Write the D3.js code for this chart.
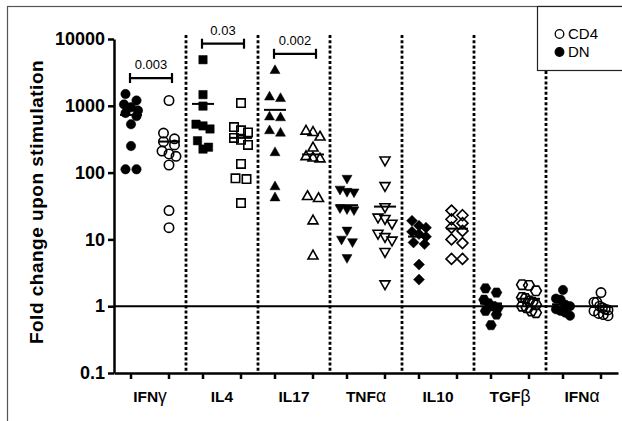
<!DOCTYPE html>
<html>
<head>
<meta charset="UTF-8">
<title>Fold change upon stimulation</title>
<script src="https://cdn.jsdelivr.net/npm/d3@7"></script>
<style>
  body { margin: 0; background: #fff; }
  svg text { font-family: Arial, "Liberation Sans", sans-serif; }
</style>
</head>
<body>
<div id="chart"></div>
<script>
// values (fold change, one entry per donor)
var cytokines = ["IFNγ", "IL4", "IL17", "TNFα", "IL10", "TGFβ", "IFNα"];
var series = ["DN", "CD4"];

var dnValues = [
  [1500, 1200, 1050, 950, 850, 780, 700, 530, 250, 112, 112],
  [4900, 1470, 990, 530, 500, 450, 300, 240, 225],
  [3460, 1390, 1320, 700, 680, 435, 400, 204, 63, 43],
  [80, 55, 51, 50, 29, 28, 27, 13.4, 9.8, 9, 5.2],
  [19, 16, 15, 13, 12, 11, 9, 8.5, 4.2, 2.5],
  [1.85, 1.6, 1.25, 1.1, 1.0, 0.95, 0.85, 0.75, 0.52],
  [1.75, 1.3, 1.25, 1.05, 1.0, 0.9, 0.85, 0.8, 0.72]
];
var cd4Values = [
  [1200, 390, 320, 290, 260, 210, 190, 175, 130, 27, 15],
  [1100, 480, 430, 400, 330, 310, 260, 135, 82, 80, 35],
  [430, 410, 350, 240, 178, 170, 165, 45, 42, 19.5, 5.8],
  [150, 62, 30, 21, 20, 17, 12, 10.7, 9.5, 6.4, 2.1],
  [27, 23, 20, 17.5, 15, 13.4, 10, 8.8, 5.1, 5.1],
  [2.1, 2.05, 1.7, 1.35, 1.3, 1.2, 1.15, 1.05, 1.0, 0.95, 0.85, 0.8],
  [1.6, 1.15, 1.15, 1.0, 0.95, 0.9, 0.88, 0.85, 0.78, 0.75, 0.72]
];

// significance brackets
var pCytokines = ["IFNγ", "IL4", "IL17"];
var pLabels = ["0.003", "0.03", "0.002"];

var yTicks = [0.1, 1, 10, 100, 1000, 10000];
var yTickLabels = ["0.1", "1", "10", "100", "1000", "10000"];

//////////////////////////////////////////////////////////////////////
var width = 622, height = 421;
var plotLeft = 114, plotRight = 618, plotTop = 39, plotBottom = 373;

var svg = d3.select("#chart").append("svg")
    .attr("width", width)
    .attr("height", height);

// frame round the figure
svg.append("rect")
    .attr("x", 7.5).attr("y", 6.5)
    .attr("width", 640).attr("height", 440)
    .attr("fill", "none").attr("stroke", "#555").attr("stroke-width", 1.2);

var y = d3.scaleLog().domain([0.1, 10000]).range([plotBottom, plotTop]);
var x = d3.scaleBand().domain(cytokines).range([plotLeft, plotRight]);
var xInner = d3.scalePoint().domain(series).range([-19, 19]);

function colX(c, s) { return x(c) + x.bandwidth() / 2 + xInner(s); }

// dotted separators between cytokines
var seps = cytokines.slice(1);
svg.selectAll(".sep")
    .data(seps)
  .enter().append("line")
    .attr("class", "sep")
    .attr("x1", function(d) { return x(d); })
    .attr("x2", function(d) { return x(d); })
    .attr("y1", function(d, i) { return i == seps.length - 1 ? 71 : 35; })  // last one stops under legend
    .attr("y2", plotBottom)
    .attr("stroke", "#000")
    .attr("stroke-width", 2.8)
    .attr("stroke-dasharray", "3,2.2");

// reference line at 1
svg.append("line")
    .attr("x1", plotLeft).attr("x2", plotRight)
    .attr("y1", y(1)).attr("y2", y(1))
    .attr("stroke", "#000").attr("stroke-width", 2);

// y axis
var yAxis = svg.append("g")
    .attr("transform", "translate(" + plotLeft + ",0)")
    .call(d3.axisLeft(y).tickValues(yTicks)
      .tickFormat(function(d, i) { return yTickLabels[i]; })
      .tickSize(6).tickSizeOuter(0).tickPadding(3));
yAxis.select(".domain").attr("stroke-width", 2.5);
yAxis.selectAll(".tick line").attr("stroke-width", 2.5);
yAxis.selectAll("text")
    .attr("font-size", 18).attr("font-weight", "bold").attr("fill", "#000")
    .style("font-family", "Arial, 'Liberation Sans', sans-serif");

// x axis (labels only, column ticks drawn below)
var xAxis = svg.append("g")
    .attr("transform", "translate(0," + plotBottom + ")")
    .call(d3.axisBottom(x).tickSize(0).tickSizeOuter(0).tickPadding(18));
xAxis.select(".domain").attr("stroke-width", 2.5);
xAxis.selectAll("text")
    .attr("font-size", 15.5).attr("font-weight", "bold").attr("fill", "#000")
    .style("font-family", "Arial, 'Liberation Sans', sans-serif")
    .each(function(d) {
      var t = d3.select(this);
      var m = d.match(/^(.*?)([αβγ]?)$/);
      t.text(null);
      t.append("tspan").text(m[1]);
      if (m[2]) t.append("tspan").attr("font-weight", "normal").attr("font-size", 17.5).text(m[2]);
    });

var cols = [];
cytokines.forEach(function(c, i) {
  cols.push({ cyt: c, s: "DN", values: dnValues[i], shape: i });
  cols.push({ cyt: c, s: "CD4", values: cd4Values[i], shape: i });
});

svg.selectAll(".coltick")
    .data(cols)
  .enter().append("line")
    .attr("x1", function(d) { return colX(d.cyt, d.s); })
    .attr("x2", function(d) { return colX(d.cyt, d.s); })
    .attr("y1", plotBottom).attr("y2", plotBottom + 6)
    .attr("stroke", "#000").attr("stroke-width", 2.5);

// marker shapes
var shapeNames = ["circle", "square", "triangle", "triangleDown", "diamond", "hexagon", "circle"];
function shapePath(name) {
  if (name == "circle") return d3.symbol(d3.symbolCircle, Math.PI * 4.7 * 4.7)();
  if (name == "square") return "M-4.2,-4.2H4.2V4.2H-4.2Z";
  if (name == "triangle") return "M0,-5L5,3.8H-5Z";
  if (name == "triangleDown") return "M0,5L5,-3.8H-5Z";
  if (name == "diamond") return "M0,-5.5L5.5,0L0,5.5L-5.5,0Z";
  var pts = d3.range(6).map(function(k) {
    var a = k * Math.PI / 3;
    return [5.4 * Math.cos(a), 5.4 * Math.sin(a)];
  });
  return "M" + pts.join("L") + "Z";
}

// spread overlapping points sideways, row by row (like a column scatter)
function spread(values, cx) {
  var pts = values.map(function(v) { return { v: v, y: y(v) }; })
                  .sort(function(a, b) { return a.y - b.y; });
  var rows = [], cur = null;
  pts.forEach(function(p) {
    if (cur && p.y - cur[0].y < 8) cur.push(p);
    else { cur = [p]; rows.push(cur); }
  });
  rows.forEach(function(r) {
    var n = r.length;
    var sp = n > 1 ? Math.min(11, 14 / (n - 1)) : 0;
    r.forEach(function(p, k) { p.x = cx + (k - (n - 1) / 2) * sp; });
  });
  return pts;
}

cols.forEach(function(col) {
  var cx = colX(col.cyt, col.s);
  var open = col.s == "CD4";
  var d = shapePath(shapeNames[col.shape]);
  svg.append("g").selectAll("path")
      .data(spread(col.values, cx))
    .enter().append("path")
      .attr("d", d)
      .attr("transform", function(p) { return "translate(" + p.x + "," + p.y + ")"; })
      .attr("fill", open ? "none" : "#000")
      .attr("stroke", "#000")
      .attr("stroke-width", open ? 1.6 : 0.5);

  // mean line
  var m = d3.mean(col.values);
  svg.append("line")
      .attr("x1", cx - 11).attr("x2", cx + 11)
      .attr("y1", y(m)).attr("y2", y(m))
      .attr("stroke", "#000").attr("stroke-width", 2);
});

// significance brackets, placed just above the highest point
pCytokines.forEach(function(c, i) {
  var k = cytokines.indexOf(c);
  var by = y(d3.max(dnValues[k].concat(cd4Values[k]))) - 16;
  var x1 = colX(c, "DN") - 1, x2 = colX(c, "CD4") + 3;
  var g = svg.append("g").attr("stroke", "#000").attr("stroke-width", 2.2);
  g.append("line").attr("x1", x1).attr("x2", x2).attr("y1", by).attr("y2", by);
  g.append("line").attr("x1", x1).attr("x2", x1).attr("y1", by - 5).attr("y2", by + 5);
  g.append("line").attr("x1", x2).attr("x2", x2).attr("y1", by - 5).attr("y2", by + 5);
  svg.append("text")
      .attr("x", (x1 + x2) / 2).attr("y", by - 9)
      .attr("text-anchor", "middle")
      .attr("font-size", 13)
      .text(pLabels[i]);
});

// y axis title
svg.append("text")
    .attr("transform", "translate(43,202) rotate(-90)")
    .attr("text-anchor", "middle")
    .attr("font-size", 19).attr("font-weight", "bold")
    .attr("letter-spacing", 0.5)
    .text("Fold change upon stimulation");

// legend
var legend = svg.append("g");
legend.append("rect")
    .attr("x", 537.5).attr("y", 6.5).attr("width", 100).attr("height", 64)
    .attr("fill", "#fff").attr("stroke", "#222").attr("stroke-width", 1.2);
var legItems = series.slice().reverse();   // CD4 first, then DN
legItems.forEach(function(s, i) {
  legend.append("circle")
      .attr("cx", 559.5).attr("cy", 34 + i * 18).attr("r", 4.3)
      .attr("fill", s == "CD4" ? "#fff" : "#000")
      .attr("stroke", "#000").attr("stroke-width", 1.3);
  legend.append("text")
      .attr("x", 568).attr("y", 39 + i * 18)
      .attr("font-size", 15)
      .text(s);
});
</script>
</body>
</html>
